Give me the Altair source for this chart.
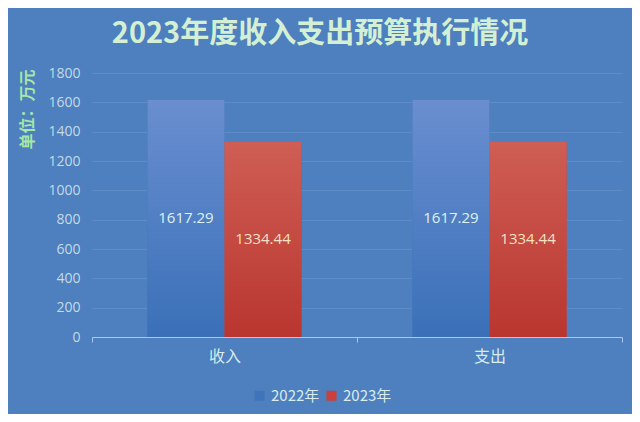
import altair as alt
import pandas as pd

categories = ["收入", "支出"]
years = ["2022年", "2023年"]
values_2022 = [1617.29, 1617.29]
values_2023 = [1334.44, 1334.44]
y_ticks = [0, 200, 400, 600, 800, 1000, 1200, 1400, 1600, 1800]

rows = []
for c, v in zip(categories, values_2022):
    rows.append({"cat": c, "year": years[0], "value": v})
for c, v in zip(categories, values_2023):
    rows.append({"cat": c, "year": years[1], "value": v})
df = pd.DataFrame(rows)

FONT = "Noto Sans CJK SC"
BG = "#4e7fbe"

x = alt.X("cat:N", sort=categories, title=None,
          scale=alt.Scale(paddingInner=0, paddingOuter=0),
          axis=alt.Axis(labelAngle=0, labelColor="#d8ecec", labelFontSize=16, labelFont=FONT,
                        domainColor="#a8c8ec", tickColor="#a8c8ec", tickSize=5,
                        tickBand="extent", labelPadding=6, grid=False))
xo = alt.XOffset("year:N", sort=years, scale=alt.Scale(paddingInner=0, paddingOuter=0.72))
y_axis = alt.Axis(values=y_ticks, format="d", labelOverlap=False,
                  labelColor="#c4dae6", labelFontSize=14, labelFont="Open Sans",
                  domain=False, ticks=False, gridColor="#5e8cc8", gridWidth=1,
                  labelPadding=12,
                  titleColor="#a6e6a6", titleFont=FONT, titleFontSize=16, titleFontWeight="bold",
                  titleAngle=-90, titleX=-65, titleY=-4, titleAlign="right",
                  titleBaseline="middle")
y_scale = alt.Scale(domain=[0, 1800])
y = alt.Y("value:Q", title="单位：万元", scale=y_scale, axis=y_axis)
y_half = alt.Y("half:Q", title="单位：万元", scale=y_scale, axis=y_axis)

base = alt.Chart(df)

legend_bars = base.mark_bar().encode(
    x=x, xOffset=xo, y=y,
    color=alt.Color("year:N", sort=years, title=None,
                    scale=alt.Scale(domain=years, range=["#3f74bb", "#c9413a"]),
                    legend=alt.Legend(orient="none", legendX=160, legendY=315, direction="horizontal",
                                      symbolType="square", symbolSize=100, labelColor="#d8ecec",
                                      labelFontSize=15, labelFont=FONT, columnPadding=4,
                                      symbolStrokeWidth=0, labelOffset=4))
)

blue_grad = alt.Gradient(gradient="linear", x1=0, y1=0, x2=0, y2=1,
                         stops=[alt.GradientStop(color="#6a8ed0", offset=0),
                                alt.GradientStop(color="#3a70b8", offset=1)])
red_grad = alt.Gradient(gradient="linear", x1=0, y1=0, x2=0, y2=1,
                        stops=[alt.GradientStop(color="#cf5e55", offset=0),
                               alt.GradientStop(color="#b9362f", offset=1)])

bars22 = base.transform_filter(alt.datum.year == years[0]).mark_bar(color=blue_grad).encode(
    x=x, xOffset=xo, y=y)
bars23 = base.transform_filter(alt.datum.year == years[1]).mark_bar(color=red_grad).encode(
    x=x, xOffset=xo, y=y)

labels = base.transform_calculate(half="datum.value / 2").mark_text(
    font="Open Sans", fontSize=15, baseline="middle").encode(
    x=x, xOffset=xo, y=y_half,
    text=alt.Text("value:Q", format=".2f"),
    color=alt.Color("year:N", scale=alt.Scale(domain=years, range=["#dcf2f4", "#f2e2c4"]), legend=None)
)

chart = alt.layer(legend_bars, bars22, bars23, labels).resolve_scale(color="independent").properties(
    width=530, height=264,
    background=BG,
    padding={"left": 84, "top": 65, "right": 10, "bottom": 77},
    autosize=alt.AutoSizeParams(type="none"),
    title=alt.TitleParams("2023年度收入支出预算执行情况", font=FONT, fontSize=29, fontWeight="bold",
                          color="#d4f0d4", anchor="middle", dx=-37, offset=17)
).configure_view(stroke=None)

chart.save("out.html", embed_options={"renderer": "svg", "actions": False})
